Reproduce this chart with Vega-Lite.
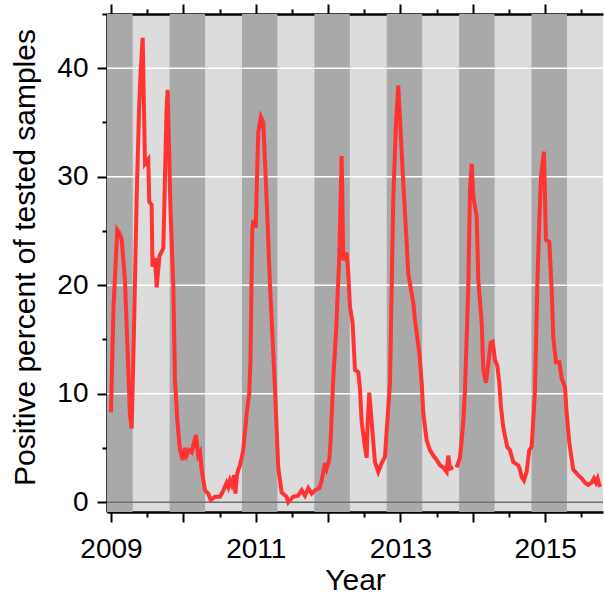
{
  "$schema": "https://vega.github.io/schema/vega-lite/v6.json",
  "width": 496,
  "height": 498,
  "autosize": {"type": "none"},
  "padding": {"left": 107, "top": 14, "right": 2, "bottom": 82},
  "background": "white",
  "config": {
    "view": {"stroke": null, "fill": "#dcdcdc"},
    "axis": {
      "labelFont": "Liberation Sans",
      "titleFont": "Liberation Sans",
      "labelFontSize": 28,
      "titleFontSize": 30,
      "titleFontWeight": "normal",
      "labelColor": "black",
      "titleColor": "black",
      "domainColor": "black",
      "tickColor": "black",
      "domainWidth": 2.5,
      "tickWidth": 2,
      "ticks": true,
      "grid": false,
      "zindex": 1
    }
  },
  "datasets": {
    "bands": [
      {"start": 2008.81, "end": 2009.30},
      {"start": 2009.81, "end": 2010.30},
      {"start": 2010.81, "end": 2011.30},
      {"start": 2011.81, "end": 2012.30},
      {"start": 2012.81, "end": 2013.30},
      {"start": 2013.81, "end": 2014.30},
      {"start": 2014.81, "end": 2015.30}
    ],
    "grid": [{"level": 10}, {"level": 20}, {"level": 30}, {"level": 40}],
    "series": [
      {"year": 2009.000, "pct": 8.3},
      {"year": 2009.035, "pct": 18},
      {"year": 2009.087, "pct": 25.1},
      {"year": 2009.117, "pct": 24.8},
      {"year": 2009.148, "pct": 24.2},
      {"year": 2009.193, "pct": 20.5},
      {"year": 2009.235, "pct": 13},
      {"year": 2009.262, "pct": 8},
      {"year": 2009.286, "pct": 6.8},
      {"year": 2009.318, "pct": 16},
      {"year": 2009.355, "pct": 28},
      {"year": 2009.387, "pct": 36},
      {"year": 2009.408, "pct": 39.5},
      {"year": 2009.438, "pct": 42.8},
      {"year": 2009.470, "pct": 31.2},
      {"year": 2009.515, "pct": 31.6},
      {"year": 2009.529, "pct": 27.7},
      {"year": 2009.562, "pct": 27.4},
      {"year": 2009.573, "pct": 21.7},
      {"year": 2009.608, "pct": 22.5},
      {"year": 2009.631, "pct": 19.8},
      {"year": 2009.670, "pct": 22.7},
      {"year": 2009.723, "pct": 23.4},
      {"year": 2009.746, "pct": 30},
      {"year": 2009.767, "pct": 36},
      {"year": 2009.783, "pct": 38},
      {"year": 2009.801, "pct": 33},
      {"year": 2009.822, "pct": 27},
      {"year": 2009.861, "pct": 20},
      {"year": 2009.884, "pct": 11.3},
      {"year": 2009.916, "pct": 7.6},
      {"year": 2009.953, "pct": 4.8},
      {"year": 2009.991, "pct": 3.9},
      {"year": 2010.022, "pct": 5.0},
      {"year": 2010.046, "pct": 4.3},
      {"year": 2010.078, "pct": 4.8},
      {"year": 2010.115, "pct": 4.6},
      {"year": 2010.147, "pct": 5.5},
      {"year": 2010.174, "pct": 6.2},
      {"year": 2010.206, "pct": 4.3},
      {"year": 2010.230, "pct": 4.6},
      {"year": 2010.253, "pct": 3.0},
      {"year": 2010.299, "pct": 1.1},
      {"year": 2010.344, "pct": 0.8},
      {"year": 2010.377, "pct": 0.2},
      {"year": 2010.437, "pct": 0.5},
      {"year": 2010.506, "pct": 0.5},
      {"year": 2010.552, "pct": 1.1},
      {"year": 2010.598, "pct": 1.8},
      {"year": 2010.621, "pct": 1.4},
      {"year": 2010.644, "pct": 2.0},
      {"year": 2010.668, "pct": 1.6},
      {"year": 2010.699, "pct": 2.5},
      {"year": 2010.720, "pct": 0.8},
      {"year": 2010.741, "pct": 2.5},
      {"year": 2010.759, "pct": 3.0},
      {"year": 2010.782, "pct": 3.4},
      {"year": 2010.828, "pct": 4.8},
      {"year": 2010.875, "pct": 8.2},
      {"year": 2010.911, "pct": 10.1},
      {"year": 2010.927, "pct": 13},
      {"year": 2010.952, "pct": 25.1},
      {"year": 2010.966, "pct": 26},
      {"year": 2011.000, "pct": 25.3},
      {"year": 2011.013, "pct": 28.8},
      {"year": 2011.035, "pct": 34.1},
      {"year": 2011.072, "pct": 35.5},
      {"year": 2011.104, "pct": 35.0},
      {"year": 2011.151, "pct": 27.9},
      {"year": 2011.197, "pct": 20},
      {"year": 2011.266, "pct": 10.5},
      {"year": 2011.311, "pct": 3.2},
      {"year": 2011.358, "pct": 0.9},
      {"year": 2011.427, "pct": 0.5},
      {"year": 2011.450, "pct": 0},
      {"year": 2011.515, "pct": 0.5},
      {"year": 2011.584, "pct": 0.6},
      {"year": 2011.635, "pct": 1.1},
      {"year": 2011.680, "pct": 0.6},
      {"year": 2011.726, "pct": 1.3},
      {"year": 2011.773, "pct": 0.8},
      {"year": 2011.819, "pct": 1.1},
      {"year": 2011.878, "pct": 1.3},
      {"year": 2011.911, "pct": 2.0},
      {"year": 2011.957, "pct": 3.6},
      {"year": 2011.980, "pct": 3.1},
      {"year": 2012.016, "pct": 3.9},
      {"year": 2012.035, "pct": 5.7},
      {"year": 2012.071, "pct": 11.3},
      {"year": 2012.109, "pct": 15.6},
      {"year": 2012.154, "pct": 22.6},
      {"year": 2012.187, "pct": 31.9},
      {"year": 2012.210, "pct": 22.3},
      {"year": 2012.256, "pct": 23},
      {"year": 2012.279, "pct": 21.1},
      {"year": 2012.302, "pct": 18},
      {"year": 2012.339, "pct": 16.5},
      {"year": 2012.371, "pct": 12.2},
      {"year": 2012.417, "pct": 12},
      {"year": 2012.440, "pct": 10.5},
      {"year": 2012.464, "pct": 7.4},
      {"year": 2012.509, "pct": 5.1},
      {"year": 2012.533, "pct": 4.1},
      {"year": 2012.546, "pct": 7.3},
      {"year": 2012.569, "pct": 10.1},
      {"year": 2012.602, "pct": 7.4},
      {"year": 2012.647, "pct": 3.7},
      {"year": 2012.693, "pct": 2.8},
      {"year": 2012.740, "pct": 3.6},
      {"year": 2012.786, "pct": 4.2},
      {"year": 2012.809, "pct": 6.6},
      {"year": 2012.855, "pct": 11},
      {"year": 2012.900, "pct": 27.9},
      {"year": 2012.938, "pct": 35},
      {"year": 2012.969, "pct": 38.4},
      {"year": 2012.993, "pct": 35.3},
      {"year": 2013.034, "pct": 30},
      {"year": 2013.076, "pct": 25},
      {"year": 2013.108, "pct": 21},
      {"year": 2013.177, "pct": 18.4},
      {"year": 2013.200, "pct": 16.8},
      {"year": 2013.260, "pct": 13.8},
      {"year": 2013.293, "pct": 11},
      {"year": 2013.315, "pct": 8.2},
      {"year": 2013.362, "pct": 5.7},
      {"year": 2013.407, "pct": 4.8},
      {"year": 2013.453, "pct": 4.3},
      {"year": 2013.500, "pct": 3.9},
      {"year": 2013.546, "pct": 3.4},
      {"year": 2013.591, "pct": 3.2},
      {"year": 2013.638, "pct": 2.8},
      {"year": 2013.660, "pct": 4.3},
      {"year": 2013.684, "pct": 3.1},
      {"year": 2013.729, "pct": 3.2},
      {"year": 2013.753, "pct": null},
      {"year": 2013.776, "pct": 3.2},
      {"year": 2013.822, "pct": 4.1},
      {"year": 2013.867, "pct": 7.3},
      {"year": 2013.891, "pct": 10.3},
      {"year": 2013.937, "pct": 19.9},
      {"year": 2013.960, "pct": 28.8},
      {"year": 2013.984, "pct": 31.2},
      {"year": 2014.006, "pct": 28.2},
      {"year": 2014.053, "pct": 26.3},
      {"year": 2014.075, "pct": 20.5},
      {"year": 2014.122, "pct": 16.5},
      {"year": 2014.144, "pct": 12.2},
      {"year": 2014.181, "pct": 11},
      {"year": 2014.213, "pct": 12.8},
      {"year": 2014.246, "pct": 14.7},
      {"year": 2014.274, "pct": 14.8},
      {"year": 2014.305, "pct": 13.1},
      {"year": 2014.337, "pct": 12.6},
      {"year": 2014.365, "pct": 11},
      {"year": 2014.388, "pct": 8.8},
      {"year": 2014.420, "pct": 6.9},
      {"year": 2014.475, "pct": 5.1},
      {"year": 2014.513, "pct": 4.8},
      {"year": 2014.558, "pct": 3.7},
      {"year": 2014.627, "pct": 3.4},
      {"year": 2014.651, "pct": 3.0},
      {"year": 2014.674, "pct": 2.3},
      {"year": 2014.706, "pct": 2.0},
      {"year": 2014.743, "pct": 2.8},
      {"year": 2014.779, "pct": 4.8},
      {"year": 2014.812, "pct": 5.1},
      {"year": 2014.835, "pct": 7.6},
      {"year": 2014.858, "pct": 10.3},
      {"year": 2014.890, "pct": 19.9},
      {"year": 2014.917, "pct": 25.8},
      {"year": 2014.941, "pct": 30},
      {"year": 2014.982, "pct": 32.3},
      {"year": 2015.010, "pct": 24.2},
      {"year": 2015.056, "pct": 24},
      {"year": 2015.089, "pct": 19.6},
      {"year": 2015.111, "pct": 15.2},
      {"year": 2015.148, "pct": 12.9},
      {"year": 2015.194, "pct": 12.9},
      {"year": 2015.227, "pct": 11.4},
      {"year": 2015.273, "pct": 10.6},
      {"year": 2015.296, "pct": 8.2},
      {"year": 2015.332, "pct": 5.5},
      {"year": 2015.387, "pct": 3.0},
      {"year": 2015.456, "pct": 2.5},
      {"year": 2015.503, "pct": 2.2},
      {"year": 2015.549, "pct": 1.8},
      {"year": 2015.594, "pct": 1.6},
      {"year": 2015.641, "pct": 1.8},
      {"year": 2015.673, "pct": 2.2},
      {"year": 2015.701, "pct": 1.8},
      {"year": 2015.724, "pct": 2.2},
      {"year": 2015.756, "pct": 1.4}
    ]
  },
  "layer": [
    {
      "data": {"name": "bands"},
      "mark": {"type": "rect", "color": "#a9a9a9", "clip": true},
      "encoding": {
        "x": {
          "field": "start",
          "type": "quantitative",
          "scale": {"domain": [2008.945, 2015.798], "nice": false, "zero": false},
          "axis": {
            "orient": "bottom",
            "values": [2009, 2010, 2011, 2012, 2013, 2014, 2015],
            "format": "d",
            "labelExpr": "datum.value % 2 === 1 ? datum.label : ''",
            "tickSize": 10,
            "labelBaseline": "alphabetic",
            "labelPadding": 35,
            "labelOverlap": false,
            "labelFlush": false,
            "title": "Year",
            "titleY": 77,
            "titleBaseline": "alphabetic"
          }
        },
        "x2": {"field": "end"}
      }
    },
    {
      "data": {"name": "grid"},
      "mark": {"type": "rule", "color": "#ffffff", "strokeWidth": 1.5},
      "encoding": {
        "x": {
          "datum": 2008.945,
          "type": "quantitative",
          "scale": {"domain": [2008.945, 2015.798], "nice": false, "zero": false},
          "axis": {
            "orient": "bottom",
            "values": [2009.5, 2010.5, 2011.5, 2012.5, 2013.5, 2014.5, 2015.5],
            "tickSize": 5,
            "labels": false,
            "domain": false,
            "title": null
          }
        },
        "x2": {"datum": 2015.798},
        "y": {
          "field": "level",
          "type": "quantitative",
          "scale": {"domain": [-0.9, 45], "nice": false, "zero": false},
          "axis": {
            "orient": "left",
            "values": [0, 10, 20, 30, 40],
            "tickSize": 10,
            "labelPadding": 9,
            "labelOverlap": false,
            "labelFlush": false,
            "title": "Positive percent of tested samples",
            "titleX": -73,
            "titleY": 243,
            "titleBaseline": "alphabetic"
          }
        }
      }
    },
    {
      "data": {"values": [{"z": 0}]},
      "mark": {"type": "rule", "color": "#707070", "strokeWidth": 1.5},
      "encoding": {
        "x": {
          "datum": 2008.945,
          "type": "quantitative",
          "scale": {"domain": [2008.945, 2015.798], "nice": false, "zero": false},
          "axis": {
            "orient": "top",
            "values": [2009.5, 2010.5, 2011.5, 2012.5, 2013.5, 2014.5, 2015.5],
            "tickSize": 5,
            "labels": false,
            "domain": false,
            "title": null
          }
        },
        "x2": {"datum": 2015.798},
        "y": {
          "field": "z",
          "type": "quantitative",
          "scale": {"domain": [-0.9, 45], "nice": false, "zero": false},
          "axis": {
            "orient": "left",
            "values": [5, 15, 25, 35, 45],
            "tickSize": 5,
            "labels": false,
            "domain": false,
            "title": null
          }
        }
      }
    },
    {
      "data": {"name": "series"},
      "mark": {"type": "line", "color": "#ff3333", "strokeWidth": 4},
      "encoding": {
        "x": {
          "field": "year",
          "type": "quantitative",
          "scale": {"domain": [2008.945, 2015.798], "nice": false, "zero": false},
          "axis": {
            "orient": "top",
            "values": [2009, 2010, 2011, 2012, 2013, 2014, 2015],
            "tickSize": 10,
            "labels": false,
            "title": null
          }
        },
        "y": {
          "field": "pct",
          "type": "quantitative",
          "scale": {"domain": [-0.9, 45], "nice": false, "zero": false},
          "axis": null
        }
      }
    }
  ],
  "resolve": {"axis": {"x": "independent", "y": "independent"}}
}
